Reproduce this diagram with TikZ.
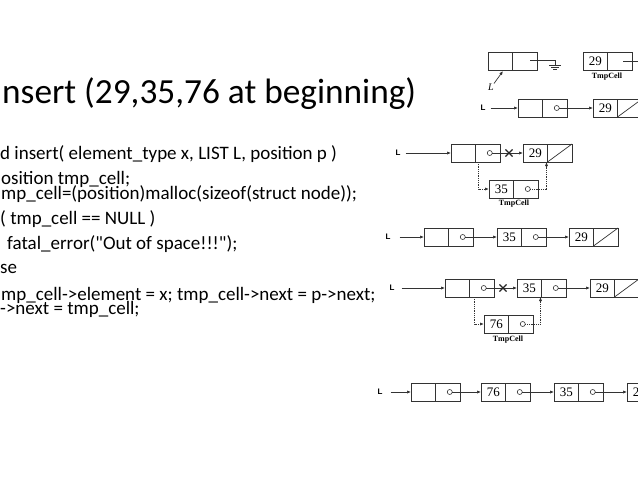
\documentclass[tikz,border=0pt]{standalone}
\usepackage{fontspec}
\setmainfont{Carlito}
\newfontfamily\numfont{Liberation Serif}
\newfontfamily\lblfont{Liberation Sans}
\usetikzlibrary{arrows.meta,shapes.misc}
\tikzset{
  half/.style={draw=black!80, line width=0.7pt, minimum width=24.5pt, minimum height=18pt,
    inner sep=0pt, outer sep=0pt, anchor=west, font=\numfont\fontsize{13}{13}\selectfont},
  ptrc/.style={circle, draw=black!80, line width=0.6pt, minimum size=5pt, inner sep=0pt, outer sep=0pt},
  arr/.style={draw=black!80, line width=0.7pt, -{Latex[length=4pt,width=3.2pt]}},
  link/.style={draw=black!80, line width=0.7pt},
  dotl/.style={draw=black!80, line width=0.8pt, densely dotted},
  xm/.style={cross out, draw=black!85, line width=1.1pt, minimum size=6pt, inner sep=0pt},
  lbl/.style={font=\lblfont\bfseries\fontsize{8}{8}\selectfont, inner sep=0pt},
  tmpl/.style={font=\numfont\bfseries\fontsize{8}{8}\selectfont, inner sep=0pt},
  title/.style={anchor=base west, inner sep=0pt, font=\fontsize{35.3}{40}\selectfont},
  code/.style={anchor=base west, inner sep=0pt, font=\fontsize{19}{20}\selectfont},
}
\newcommand\mkcell[4]{%
  \node[half] (#1d) at (#2,#3) {#4};
  \node[half] (#1n) at (#1d.east) {};}
\newcommand\mkptr[1]{\node[ptrc] (#1c) at ([xshift=2pt]#1n.center) {};}
\newcommand\mkslash[1]{\draw[link] (#1n.south west) -- (#1n.north east);}
\begin{document}
\begin{tikzpicture}[x=1pt,y=-1pt]
\useasboundingbox (0,0) rectangle (638,493);
% ---- text ----
\node[title] (t0) at (2,103) {nsert (29,35,76 at beginning)};
\node[code] (c1) at (0,159) {d insert( element\_type x, LIST L, position p )};
\node[code] (c2) at (1,184) {osition tmp\_cell;};
\node[code] (c3) at (1,199) {mp\_cell=(position)malloc(sizeof(struct node));};
\node[code] (c4) at (0,224) {( tmp\_cell == NULL )};
\node[code] (c5) at (7,249) {fatal\_error(\textquotedbl Out of space!!!\textquotedbl);};
\node[code] (c6) at (0,273) {se};
\node[code] (c7) at (1,300) {mp\_cell->element = x; tmp\_cell->next = p->next;};
\node[code] (c8) at (0,314) {->next = tmp\_cell;};
% ---- row 1 ----
\mkcell{ra}{488}{61}{}
\coordinate (raS) at (530,60);
\coordinate (raG) at (555,60);
\coordinate (raG1) at (555,65);
\draw[link] (raS) -- (raG) -- (raG1);
\draw[link] (549,65) -- (561,65) (551,67) -- (559,67) (553,69) -- (557,69);
\node[font=\numfont\itshape\fontsize{10}{10}\selectfont, inner sep=0pt] (raL) at (491,87) {L};
\coordinate (raP) at (503,71);
\draw[arr] (raL.north east) -- (raP);
\mkcell{rt}{583}{61}{29}
\coordinate (rtS) at (623,61);
\coordinate (rtE) at (640,61);
\draw[link] (rtS) -- (rtE);
\node[tmpl] (rtl) at (607,77) {TmpCell};
% ---- row 2 ----
\node[lbl] (L2) at (483,108) {L};
\mkcell{rba}{518}{108}{}
\mkptr{rba}
\mkcell{rbb}{593}{108}{29}
\mkslash{rbb}
\draw[arr] ([xshift=5pt]L2.east) -- (rbad.west);
\draw[arr] (rbac.east) -- (rbbd.west);
% ---- row 3 ----
\node[lbl] (L3) at (398,153) {L};
\mkcell{rca}{451}{153}{}
\mkptr{rca}
\mkcell{rcb}{523}{153}{29}
\mkslash{rcb}
\mkcell{rct}{489}{189}{35}
\mkptr{rct}
\node[tmpl] (rctl) at (514,204) {TmpCell};
\draw[arr] ([xshift=5pt]L3.east) -- (rcad.west);
\draw[arr] (rcac.east) -- (rcbd.west);
\node[xm] (x3) at (509,153) {};
\draw[dotl,-{Latex[length=4pt,width=3.2pt]}] ([xshift=3pt]rcan.south west) |- (rctd.west);
\draw[dotl,-{Latex[length=4pt,width=3.2pt]}] (rctc.east) -| ([xshift=-1pt]rcbn.south west);
% ---- row 4 ----
\node[lbl] (L4) at (388,237) {L};
\mkcell{rda}{424}{237}{}
\mkptr{rda}
\mkcell{rdb}{497}{237}{35}
\mkptr{rdb}
\mkcell{rdc}{569}{237}{29}
\mkslash{rdc}
\draw[arr] ([xshift=9pt]L4.east) -- (rdad.west);
\draw[arr] (rdac.east) -- (rdbd.west);
\draw[arr] (rdbc.east) -- (rdcd.west);
% ---- row 5 ----
\node[lbl] (L5) at (392,288) {L};
\mkcell{rea}{445}{288}{}
\mkptr{rea}
\mkcell{reb}{517}{288}{35}
\mkptr{reb}
\mkcell{rec}{590}{288}{29}
\mkslash{rec}
\mkcell{ret}{484}{324}{76}
\mkptr{ret}
\node[tmpl] (retl) at (508,340) {TmpCell};
\draw[arr] ([xshift=7pt]L5.east) -- (read.west);
\draw[arr] (reac.east) -- (rebd.west);
\draw[arr] (rebc.east) -- (recd.west);
\node[xm] (x5) at (503,288) {};
\draw[dotl,-{Latex[length=4pt,width=3.2pt]}] ([xshift=5pt]rean.south west) |- (retd.west);
\draw[dotl,-{Latex[length=4pt,width=3.2pt]}] (retc.east) -| ([xshift=-1pt]rebn.south west);
% ---- row 6 ----
\node[lbl] (L6) at (380,392) {L};
\mkcell{rfa}{411}{392}{}
\mkptr{rfa}
\mkcell{rfb}{481}{392}{76}
\mkptr{rfb}
\mkcell{rfc}{554}{392}{35}
\mkptr{rfc}
\mkcell{rfd}{627}{392}{29}
\draw[arr] ([xshift=8pt]L6.east) -- (rfad.west);
\draw[arr] (rfac.east) -- (rfbd.west);
\draw[arr] (rfbc.east) -- (rfcd.west);
\draw[arr] (rfcc.east) -- (rfdd.west);
\end{tikzpicture}
\end{document}
